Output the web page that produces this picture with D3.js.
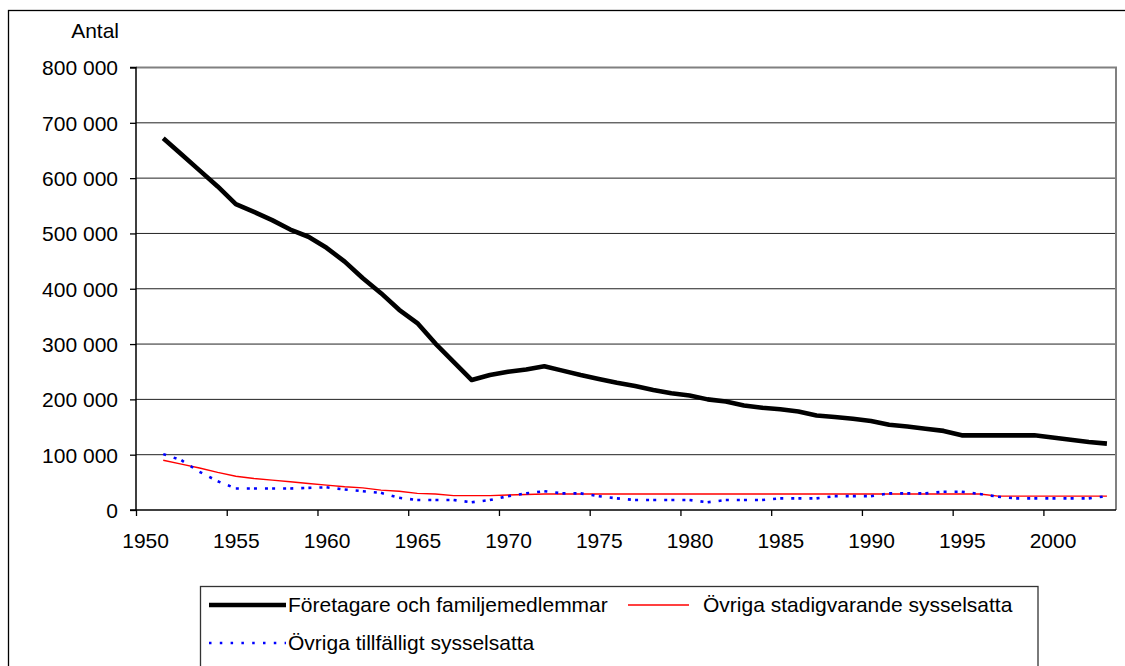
<!DOCTYPE html>
<html>
<head>
<meta charset="utf-8">
<script src="https://cdn.jsdelivr.net/npm/d3@7/dist/d3.min.js"></script>
<style>
  html, body { margin: 0; padding: 0; background: #fff; }
  svg { display: block; font-family: "Liberation Sans", Arial, sans-serif; }
</style>
</head>
<body>
<svg id="chart" width="1125" height="666"></svg>
<script>
// ---- data ----
const categories = d3.range(1950, 2004); // axis categories 1950..2003
const years = d3.range(1951, 2004);      // data years 1951..2003

const foretagare = [672000, 643000, 614000, 585000, 553000, 539000, 524000, 507000, 494000, 474000,
  449000, 419000, 392000, 362000, 338000, 301000, 268000, 235000, 244000, 250000,
  254000, 260000, 252000, 244000, 237000, 230000, 224000, 217000, 211000, 207000,
  200000, 196000, 189000, 185000, 182000, 178000, 171000, 168000, 165000, 161000,
  154000, 151000, 147000, 143000, 135000, 135000, 135000, 135000, 135000, 131000,
  127000, 123000, 120000];

const stadigvarande = [90000, 83000, 76000, 68000, 61000, 57000, 54000, 51000, 48000, 45000,
  42000, 40000, 36000, 34000, 30000, 29000, 26000, 26000, 26000, 27000,
  28000, 29000, 29000, 29000, 29000, 29000, 29000, 29000, 29000, 29000,
  29000, 29000, 29000, 29000, 29000, 29000, 29000, 29000, 29000, 29000,
  29000, 29000, 29000, 29000, 29000, 29000, 25000, 25000, 25000, 25000,
  25000, 25000, 25000];

const tillfalligt = [101000, 90000, 69000, 52000, 39000, 39000, 39000, 39000, 40000, 41000,
  37000, 34000, 31000, 22000, 18000, 18000, 18000, 14000, 18000, 25000,
  30000, 34000, 30000, 30000, 25000, 21000, 18000, 18000, 18000, 18000,
  14000, 18000, 18000, 18000, 21000, 21000, 21000, 25000, 25000, 25000,
  30000, 30000, 30000, 33000, 33000, 29000, 24000, 21000, 21000, 21000,
  21000, 21000, 25000];

const yTicks = [0, 100000, 200000, 300000, 400000, 500000, 600000, 700000, 800000];
const xTickYears = [1950, 1955, 1960, 1965, 1970, 1975, 1980, 1985, 1990, 1995, 2000];
const seriesNames = ["Företagare och familjemedlemmar", "Övriga stadigvarande sysselsatta", "Övriga tillfälligt sysselsatta"];
const yTitle = "Antal";

// ---- layout ----
const svg = d3.select("#chart");
const L = 136, R = 1116, T = 67.5, B = 510;
const FS = 21;

const x = d3.scaleBand().domain(categories).range([L, R]).paddingInner(0).paddingOuter(0);
const xc = yr => x(yr) + x.bandwidth() / 2;
const y = d3.scaleLinear().domain([0, 800000]).range([B, T]);

const loc = d3.formatLocale({ decimal: ",", thousands: " ", grouping: [3], currency: ["", ""] });
const fmt = loc.format(",d");

// outer chart border
svg.append("rect").attr("x", 8.5).attr("y", 10.5).attr("width", 1130).attr("height", 700)
  .attr("fill", "none").attr("stroke", "#000").attr("stroke-width", 1.3);

// gridlines
svg.append("g")
  .selectAll("line").data(yTicks.filter(v => v > 0 && v < 800000)).join("line")
  .attr("x1", L).attr("x2", R).attr("y1", d => y(d)).attr("y2", d => y(d))
  .attr("stroke", "#222").attr("stroke-width", 1);

// plot area border top/right (gray)
svg.append("path")
  .attr("d", `M${L},${T}H${R}V${B}`)
  .attr("fill", "none").attr("stroke", "#808080").attr("stroke-width", 2);

// y axis
const yAxis = svg.append("g").attr("transform", `translate(${L},0)`)
  .call(d3.axisLeft(y).tickValues(yTicks).tickSize(6).tickPadding(12).tickFormat(fmt));
yAxis.select(".domain").attr("stroke", "#000").attr("stroke-width", 1.5).attr("d", `M-6,${T}H0V${B}H-6`);
yAxis.selectAll(".tick line").attr("stroke", "#000").attr("stroke-width", 1.3);
yAxis.selectAll(".tick text").attr("font-size", FS).attr("fill", "#000")
  .attr("font-family", "Liberation Sans, Arial, sans-serif").attr("x", -18).attr("dy", "0.35em");

// x axis (ticks at category boundaries, labels at category centers)
const xLin = d3.scaleLinear().domain([1950, 2004]).range([L, R]);
const xAxis = svg.append("g").attr("transform", `translate(0,${B})`)
  .call(d3.axisBottom(xLin).tickValues(xTickYears).tickSize(6).tickPadding(17).tickFormat(d3.format("d")));
xAxis.select(".domain").attr("stroke", "#000").attr("stroke-width", 1.5).attr("d", `M${L},0H${R}`);
xAxis.selectAll(".tick line").attr("stroke", "#000").attr("stroke-width", 1.3);
xAxis.selectAll(".tick text").attr("font-size", FS).attr("fill", "#000")
  .attr("font-family", "Liberation Sans, Arial, sans-serif")
  .attr("x", x.bandwidth() / 2);

// y title
svg.append("text").attr("x", 119).attr("y", 38).attr("text-anchor", "end")
  .attr("font-size", FS).attr("fill", "#000").text(yTitle);

// lines
const line = d3.line().x(d => xc(d[0])).y(d => y(d[1]));
const fData = years.map((yr, i) => [yr, foretagare[i]]);
const sData = years.map((yr, i) => [yr, stadigvarande[i]]);
const tData = years.map((yr, i) => [yr, tillfalligt[i]]);

svg.append("path").datum(sData).attr("d", line)
  .attr("fill", "none").attr("stroke", "#FF0000").attr("stroke-width", 1.4);

// dotted blue: each segment restarts the dash pattern (as in the original)
const segs = d3.pairs(tData);
svg.append("g").selectAll("path").data(segs).join("path")
  .attr("d", d => line(d))
  .attr("fill", "none").attr("stroke", "#0000FF").attr("stroke-width", 2.6)
  .attr("stroke-dasharray", "3,8,3,100").attr("stroke-dashoffset", 0);

svg.append("path").datum(fData).attr("d", line)
  .attr("fill", "none").attr("stroke", "#000").attr("stroke-width", 4.6)
  .attr("stroke-linejoin", "round");

// legend
const lg = svg.append("g");
lg.append("rect").attr("x", 200.5).attr("y", 586.5).attr("width", 837.5).attr("height", 200)
  .attr("fill", "#fff").attr("stroke", "#333").attr("stroke-width", 1.3);
lg.append("line").attr("x1", 209).attr("x2", 286).attr("y1", 605).attr("y2", 605)
  .attr("stroke", "#000").attr("stroke-width", 4.6);
lg.append("text").attr("x", 288).attr("y", 612).attr("font-size", FS).text(seriesNames[0]);
lg.append("line").attr("x1", 628).attr("x2", 689).attr("y1", 605).attr("y2", 605)
  .attr("stroke", "#FF0000").attr("stroke-width", 1.4);
lg.append("text").attr("x", 703).attr("y", 612).attr("font-size", FS).text(seriesNames[1]);
lg.append("line").attr("x1", 209).attr("x2", 286).attr("y1", 643).attr("y2", 643)
  .attr("stroke", "#0000FF").attr("stroke-width", 2.6).attr("stroke-dasharray", "2.5,8.3");
lg.append("text").attr("x", 288).attr("y", 650).attr("font-size", FS).text(seriesNames[2]);
</script>
</body>
</html>
